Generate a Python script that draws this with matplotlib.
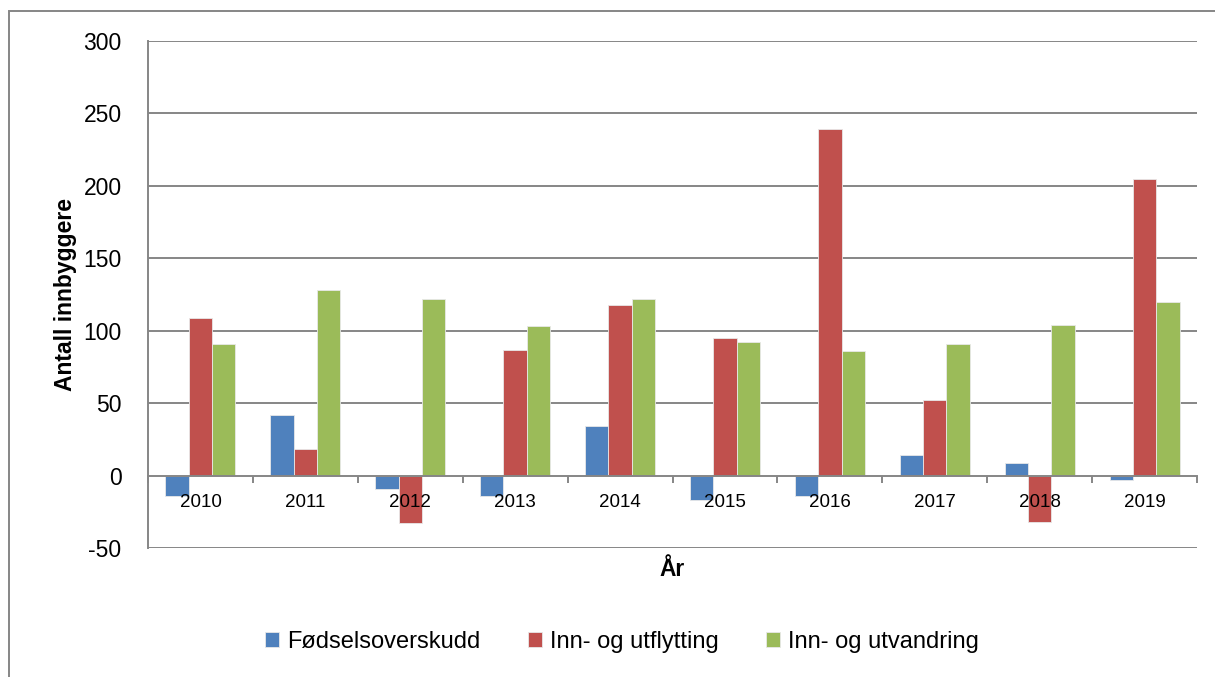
import numpy as np
import matplotlib
matplotlib.use('Agg')
import matplotlib.pyplot as plt
from matplotlib.patches import Rectangle

# data
years = ['2010', '2011', '2012', '2013', '2014', '2015', '2016', '2017', '2018', '2019']
fodselsoverskudd = [-14, 42, -9, -14, 34, -17, -14, 14, 9, -3]
innflytting = [109, 18, -33, 87, 118, 95, 239, 52, -32, 205]
innvandring = [91, 128, 122, 103, 122, 92, 86, 91, 104, 120]
series_names = ['Fødselsoverskudd', 'Inn- og utflytting', 'Inn- og utvandring']
colors = ['#4F81BD', '#C0504D', '#9BBB59']
yticks = [-50, 0, 50, 100, 150, 200, 250, 300]

plt.rcParams['font.family'] = ['Liberation Sans', 'DejaVu Sans']
grid_col = '#868686'

fig = plt.figure(figsize=(12.15, 6.77), dpi=100)
ax = fig.add_axes([148/1215, 1-548/677, (1197-148)/1215, (548-41)/677])
ax.set_axisbelow(False)  # tick labels over the bars, like excel

x = np.arange(len(years))
w = 1/4.5  # excel gap width 150%
for i, (vals, name, c) in enumerate(zip([fodselsoverskudd, innflytting, innvandring], series_names, colors)):
    ax.bar(x + (i-1)*w, vals, width=w, color=c, edgecolor='#e8e8e8', linewidth=0.6, label=name, zorder=1)

# gridlines behind the bars
for t in yticks:
    if t != 0:
        ax.axhline(t, color=grid_col, linewidth=1.4, zorder=0)

ax.set_xlim(-0.5, len(years)-0.5)
ax.set_ylim(-50, 300)
ax.set_yticks(yticks)
ax.set_yticklabels([str(t) for t in yticks], fontsize=16.5)
ax.tick_params(axis='y', length=0, pad=19)

ax.spines['top'].set_visible(False)
ax.spines['right'].set_visible(False)
ax.spines['left'].set_color(grid_col)
ax.spines['left'].set_linewidth(1.4)
ax.spines['bottom'].set_position(('data', 0))
ax.spines['bottom'].set_color(grid_col)
ax.spines['bottom'].set_linewidth(1.4)

ax.set_xticks(x)
ax.set_xticklabels(years, fontsize=13.5)
ax.tick_params(axis='x', which='major', length=0, pad=13)
ax.set_xticks(np.arange(len(years)+1) - 0.5, minor=True)
ax.tick_params(axis='x', which='minor', length=5, width=1.4, color=grid_col, direction='out')

ax.set_ylabel('Antall innbyggere', fontsize=16.5, fontweight='bold')
ax.yaxis.set_label_coords(-0.068, 0.5)
ax.set_xlabel('År', fontsize=16.5, fontweight='bold')
ax.xaxis.set_label_coords(0.5, -0.02)

fig.legend(loc='center', bbox_to_anchor=(622/1215, 1-642/677), ncol=3, frameon=False,
           fontsize=17, handlelength=0.6, handleheight=0.6, handletextpad=0.35,
           columnspacing=2.0)

# outer chart border (cut off at right and bottom)
fig.patches.append(Rectangle((9/1215, -0.05), 1.2, 1-11/677+0.05, transform=fig.transFigure,
                             fill=False, edgecolor=grid_col, linewidth=1.4))

fig.savefig('out.png', dpi=100)
